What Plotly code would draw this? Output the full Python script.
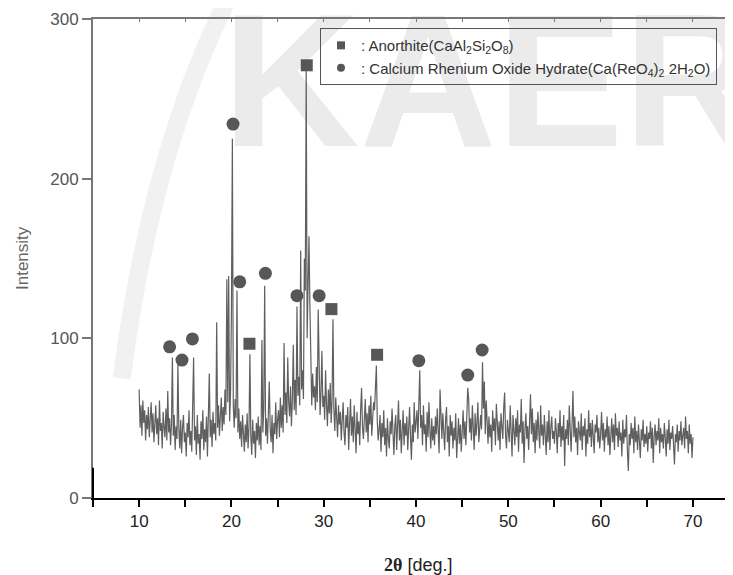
import plotly.graph_objects as go

# XRD pattern at 0.1 deg steps (10.0 .. 70.0)
intensity = [
    68, 44, 58, 39, 61, 47, 55, 36, 52, 43,      # 10
    57, 38, 49, 60, 41, 53, 35, 48, 58, 40,      # 11
    50, 33, 61, 42, 47, 31, 54, 44, 38, 56,      # 12
    36, 67, 41, 50, 33, 46, 88, 39, 52, 30,      # 13
    45, 37, 84, 43, 31, 49, 28, 44, 52, 35,      # 14
    41, 26, 47, 38, 55, 33, 42, 29, 50, 88,      # 15
    36, 45, 27, 52, 34, 40, 24, 48, 37, 55,      # 16
    30, 43, 35, 51, 26, 46, 78, 38, 49, 32,      # 17
    54, 40, 47, 36, 110, 44, 58, 39, 50, 63,     # 18
    42, 57, 46, 68, 52, 137, 60, 139, 48, 66,    # 19
    118, 225, 58, 44, 62, 50, 130, 41, 56, 37,   # 20
    48, 32, 52, 40, 29, 46, 35, 53, 31, 44,      # 21
    90, 38, 27, 49, 34, 42, 25, 47, 36, 51,      # 22
    33, 45, 30, 99, 41, 56, 133, 39, 50, 34,     # 23
    58, 73, 43, 35, 52, 28, 47, 40, 60, 37,      # 24
    49, 55, 38, 63, 44, 58, 41, 97, 52, 66,      # 25
    47, 88, 60, 51, 70, 45, 62, 96, 55, 74,      # 26
    52, 120, 64, 76, 58, 155, 68, 80, 62, 150,   # 27
    130, 268, 100, 150, 164, 120, 72, 58, 78, 63,  # 28
    70, 55, 82, 60, 118, 74, 52, 66, 92, 57,     # 29
    64, 49, 80, 58, 45, 68, 53, 72, 47, 61,      # 30
    112, 55, 42, 63, 50, 38, 58, 46, 54, 36,     # 31
    49, 60, 41, 33, 52, 44, 57, 30, 47, 62,      # 32
    39, 51, 35, 58, 43, 28, 54, 40, 48, 33,      # 33
    56, 69, 44, 37, 50, 62, 41, 53, 35, 58,      # 34
    46, 64, 39, 51, 60, 55, 72, 83, 48, 36,      # 35
    43, 52, 29, 47, 38, 55, 33, 44, 26, 50,      # 36
    37, 31, 48, 40, 56, 35, 27, 45, 52, 30,      # 37
    42, 61, 36, 49, 28, 44, 55, 33, 47, 39,      # 38
    51, 30, 43, 57, 38, 24, 46, 35, 60, 41,      # 39
    48, 55, 37, 66, 80, 44, 52, 33, 58, 40,      # 40
    46, 29, 54, 38, 60, 42, 31, 50, 36, 45,      # 41
    33, 51, 40, 56, 44, 28, 68, 47, 37, 53,      # 42
    41, 30, 49, 57, 35, 45, 26, 52, 39, 48,      # 43
    31, 44, 36, 53, 25, 42, 50, 34, 46, 29,      # 44
    40, 55, 37, 48, 33, 52, 69, 62, 41, 50,      # 45
    36, 58, 44, 30, 53, 39, 47, 60, 35, 45,      # 46
    52, 43, 85, 56, 73, 40, 61, 48, 34, 51,      # 47
    38, 46, 29, 55, 42, 50, 33, 59, 41, 36,      # 48
    48, 30, 53, 44, 37, 57, 66, 39, 31, 49,      # 49
    43, 35, 58, 40, 26, 52, 45, 33, 50, 38,      # 50
    55, 29, 46, 41, 62, 34, 48, 22, 43, 53,      # 51
    37, 45, 30, 51, 65, 40, 56, 35, 47, 28,      # 52
    49, 36, 54, 42, 31, 58, 39, 46, 33, 52,      # 53
    40, 27, 48, 35, 55, 30, 44, 51, 37, 42,      # 54
    34, 50, 41, 28, 47, 38, 55, 32, 45, 36,      # 55
    52, 20, 43, 37, 49, 33, 58, 40, 29, 46,      # 56
    67, 38, 51, 35, 44, 27, 48, 41, 36, 53,      # 57
    30, 45, 39, 50, 26, 43, 34, 55, 38, 47,      # 58
    32, 49, 37, 28, 46, 41, 52, 35, 44, 31,      # 59
    40, 54, 36, 47, 29, 43, 38, 51, 33, 45,      # 60
    27, 42, 50, 35, 46, 30, 53, 39, 44, 32,      # 61
    48, 36, 41, 26, 49, 34, 43, 38, 52, 29,      # 62
    17, 40, 33, 47, 37, 44, 28, 51, 35, 42,      # 63
    30, 46, 38, 25, 43, 36, 49, 32, 40, 34,      # 64
    45, 29, 41, 37, 48, 31, 44, 22, 39, 46,      # 65
    33, 42, 36, 50, 28, 44, 35, 40, 31, 47,      # 66
    38, 26, 43, 34, 49, 30, 41, 37, 45, 32,      # 67
    21, 40, 35, 46, 29, 42, 36, 48, 33, 39,      # 68
    44, 31, 51, 37, 42, 28, 46, 34, 40, 25,      # 69
    38,                                          # 70
]
two_theta = [round(10 + 0.1 * i, 1) for i in range(len(intensity))]

# phase markers
anorthite_x = [21.95, 28.16, 30.83, 35.78]
anorthite_y = [96.6, 271, 118.3, 89.7]
ca_rheo_x = [13.3, 14.64, 15.77, 20.17, 20.9, 23.68, 27.1, 29.5, 40.3, 45.6, 47.16]
ca_rheo_y = [94.7, 86.4, 99.6, 234.2, 135.4, 140.7, 126.7, 126.7, 86, 77, 92.7]

tick_vals = list(range(5, 75, 5))
tick_text = [str(v) if v % 10 == 0 else "" for v in tick_vals]

FONT = "Liberation Sans, Arial, sans-serif"
GREY = "#575757"

fig = go.Figure()

# faint KAERI watermark behind everything
fig.add_trace(go.Scatter(
    x=[19.0], y=[250], mode="text", text=["KAERI"],
    textposition="middle right", cliponaxis=False,
    textfont=dict(family=FONT, size=190, color="#ebebeb", weight="bold"),
    showlegend=False, hoverinfo="skip"
))

fig.add_trace(go.Scatter(
    x=two_theta, y=intensity, mode="lines",
    line=dict(color="#5f5f5f", width=1.2),
    showlegend=False
))

fig.add_trace(go.Scatter(
    x=anorthite_x, y=anorthite_y, mode="markers",
    marker=dict(symbol="square", size=12, color=GREY),
    showlegend=False
))
fig.add_trace(go.Scatter(
    x=ca_rheo_x, y=ca_rheo_y, mode="markers",
    marker=dict(symbol="circle", size=13, color=GREY),
    showlegend=False
))

# legend entries (small symbols like the original)
fig.add_trace(go.Scatter(
    x=[None], y=[None], mode="markers",
    marker=dict(symbol="square", size=8, color=GREY),
    name=": Anorthite(CaAl<sub>2</sub>Si<sub>2</sub>O<sub>8</sub>)",
    legendgroup="a"
))
fig.add_trace(go.Scatter(
    x=[None], y=[None], mode="markers",
    marker=dict(symbol="circle", size=8, color=GREY),
    name=": Calcium Rhenium Oxide Hydrate(Ca(ReO<sub>4</sub>)<sub>2</sub> 2H<sub>2</sub>O)",
    legendgroup="b"
))

# dummy trace so the top frame axis is drawn
fig.add_trace(go.Scatter(x=[None], y=[None], xaxis="x2", showlegend=False, hoverinfo="skip"))

# the page body adds an 8px offset, so the figure is 8px smaller each way
fig.update_layout(
    width=725, height=567,
    margin=dict(l=85, r=0, t=11, b=77),
    paper_bgcolor="white", plot_bgcolor="rgba(0,0,0,0)",
    font=dict(family=FONT, color="#333333"),
    xaxis=dict(
        range=[5, 74.34], showgrid=False, zeroline=False,
        showline=True, linecolor="black", linewidth=2,
        ticks="outside", ticklen=7, tickwidth=2, tickcolor="black",
        tickvals=tick_vals, ticktext=tick_text,
        tickfont=dict(size=17, color="#222222"),
    ),
    xaxis2=dict(
        overlaying="x", matches="x", side="top", anchor="y",
        showgrid=False, zeroline=False,
        showline=True, linecolor="#777777", linewidth=1.5,
        ticks="inside", ticklen=3, tickwidth=1, tickcolor="#777777",
        tickvals=tick_vals, showticklabels=False,
    ),
    yaxis=dict(
        range=[0, 300], showgrid=False, zeroline=False,
        showline=True, linecolor="#777777", linewidth=2,
        ticks="outside", ticklen=9, tickwidth=2, tickcolor="#777777",
        tickvals=[0, 100, 200, 300],
        tickfont=dict(size=17, color="#555555"),
    ),
    legend=dict(
        x=0.3547, y=0.981, xanchor="left", yanchor="top",
        bgcolor="rgba(0,0,0,0)", bordercolor="#555555", borderwidth=1,
        font=dict(size=15, color="#333333"),
        tracegroupgap=0, itemwidth=30,
    ),
    shapes=[
        # faint swoosh of the background logo
        dict(type="path", xref="paper", yref="paper", layer="below",
             path="M 0.21,1.04 Q 0.09,0.72 0.045,0.25",
             line=dict(color="#f1f1f1", width=18)),
        # darker lower piece of the left axis
        dict(type="line", xref="paper", yref="y", x0=0, x1=0, y0=0, y1=19,
             line=dict(color="black", width=2)),
    ],
    annotations=[
        dict(text="Intensity", xref="paper", yref="paper", x=-0.111, y=0.501,
             xanchor="center", yanchor="middle",
             textangle=-90, showarrow=False,
             font=dict(size=17, color="#666666")),
        dict(text="<b><span style='font-family:Liberation Serif, Times New Roman, serif'>2θ</span></b> [deg.]",
             xref="paper", yref="paper", x=0.508, y=-0.14,
             xanchor="center", yanchor="middle", showarrow=False,
             font=dict(size=18, color="#222222")),
    ],
)

fig.write_html("out.html")
